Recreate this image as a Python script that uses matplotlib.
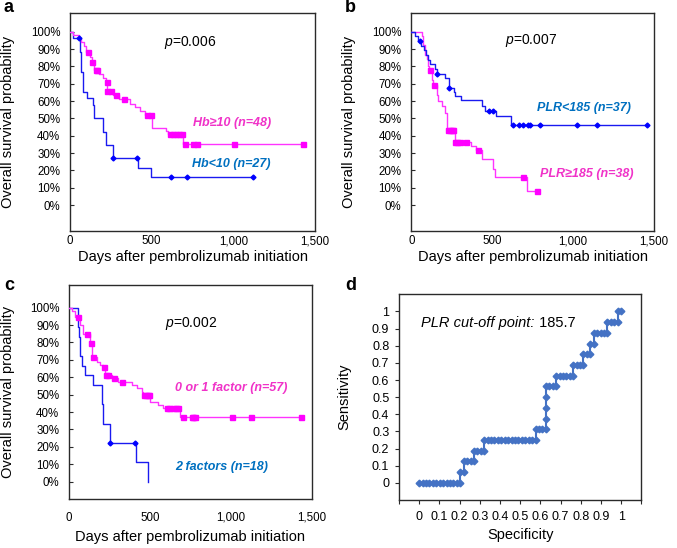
import numpy as np
import matplotlib
matplotlib.use("Agg")
import matplotlib.pyplot as plt
from matplotlib.transforms import offset_copy

plt.rcParams['font.family'] = ['Liberation Sans', 'DejaVu Sans']
plt.rcParams['mathtext.fontset'] = 'custom'
plt.rcParams['mathtext.rm'] = 'Liberation Sans'
plt.rcParams['mathtext.it'] = 'Liberation Sans:italic'

# ---------------- data ----------------
# Panel a : Hb
a_hi_t = [20, 55, 65, 85, 100, 125, 132, 148, 180, 200, 220, 226, 265, 300, 370, 395, 430, 460, 505, 585, 600, 694]
a_hi_s = [.979, .958, .938, .917, .885, .854, .823, .78, .757, .735, .71, .66, .637, .61, .585, .565, .545, .52, .445, .425, .41, .35]
a_hi_c = [112, 137, 157, 167, 224, 229, 249, 282, 331, 469, 494, 612, 630, 650, 670, 684, 704, 755, 780, 1006, 1429]
a_lo_t = [20, 61, 70, 80, 104, 140, 146, 204, 218, 265, 414, 496]
a_lo_s = [.963, .885, .77, .654, .615, .577, .50, .423, .346, .269, .216, .162]
a_lo_c = [55, 265, 410, 618, 718, 1122]

# Panel b : PLR
b_lo_t = [21, 41, 62, 76, 90, 103, 117, 144, 158, 210, 230, 261, 272, 309, 436, 457, 523, 618]
b_lo_s = [.973, .946, .919, .892, .865, .838, .811, .784, .757, .73, .676, .65, .63, .603, .57, .54, .512, .46]
b_lo_c = [56, 160, 233, 483, 504, 631, 668, 689, 724, 734, 796, 1026, 1146, 1458]
b_hi_t = [64, 74, 85, 95, 105, 112, 126, 136, 157, 167, 188, 208, 222, 268, 371, 400, 436, 507, 517, 713]
b_hi_s = [.974, .921, .868, .842, .80, .777, .72, .69, .636, .60, .57, .53, .43, .365, .34, .32, .266, .209, .16, .08]
b_hi_c = [116, 140, 229, 240, 250, 260, 272, 283, 299, 340, 412, 689, 775]

# Panel c : factors
c_01_t = [18, 37, 68, 89, 130, 140, 171, 191, 212, 220, 263, 304, 387, 418, 449, 459, 500, 552, 583, 686]
c_01_s = [.982, .948, .90, .849, .795, .718, .69, .67, .657, .613, .594, .575, .556, .536, .517, .498, .46, .44, .425, .37]
c_01_c = [54, 109, 134, 150, 216, 227, 243, 280, 330, 462, 475, 488, 497, 603, 620, 640, 660, 675, 706, 758, 768, 778, 1005, 1123, 1432]
c_2_t = [54, 62, 68, 78, 99, 150, 202, 212, 253, 414, 490]
c_2_s = [.889, .833, .722, .667, .611, .556, .444, .333, .222, .111, 0.0]
c_2_c = [256, 408]

# Panel d : ROC (counts of negatives / positives)
n_neg = 59
n_pos = 16
spec_counts = [0, 1, 2, 3, 4, 5, 6, 7, 8, 9, 10, 11, 12,
               12, 13,
               13, 14, 15, 16,
               16, 17, 18, 19,
               19, 20, 21, 22, 23, 24, 25, 26, 27, 28, 29, 30, 31, 32, 33, 34,
               34, 35, 36, 37,
               37, 37, 37,
               37, 38, 39, 40,
               40, 41, 42, 43, 44, 45,
               45, 46, 47, 48,
               48, 49, 50,
               50, 51,
               51, 52, 53, 54, 55,
               55, 56, 57, 58,
               58, 59]
sens_counts = [0] * 13 + [1] * 2 + [2] * 4 + [3] * 4 + [4] * 16 + [5] * 4 + [6, 7, 8] + \
              [9] * 4 + [10] * 6 + [11] * 4 + [12] * 3 + [13] * 2 + [14] * 5 + [15] * 4 + [16] * 2

PINK_LINE = '#FF33FF'
PINK_MK = '#FF00FF'
PINK_TXT = '#F032C8'
BLUE_LINE = '#1A1AF0'
BLUE_MK = '#0000FF'
BLUE_TXT = '#0070C0'
ROC_BLUE = '#4472C4'
FRAME = '#2a2a2a'

W, H = 677, 548
fig = plt.figure(figsize=(W / 100, H / 100), dpi=100)


def box(l, t, r, b):
    return [l / W, 1 - b / H, (r - l) / W, (b - t) / H]


def km(ax, te, se, tc, lc, mk, ms, mc):
    te = np.asarray(te, float)
    se = np.asarray(se, float)
    tc = np.asarray(tc, float)
    t_end = max(te.max(), tc.max() if len(tc) else 0)
    t = np.concatenate([[0], te, [t_end]])
    s = np.concatenate([[1.0], se, [se[-1]]])
    ax.step(t, s, where='post', color=lc, lw=1.0, zorder=3)
    idx = np.searchsorted(te, tc, side='right')
    lev = np.concatenate([[1.0], se])[idx]
    ax.plot(tc, lev, ls='none', marker=mk, ms=ms, color=mc, mec=mc, zorder=4)


def style_km(ax, ylim, xpad, xlab_y):
    ax.set_xlim(0, 1500)
    ax.set_ylim(*ylim)
    ax.set_xticks([0, 500, 1000, 1500])
    ax.set_xticklabels(['0', '500', '1,000', '1,500'])
    ax.set_yticks(np.arange(0, 11) / 10)
    ax.set_yticklabels([f'{i * 10}%' for i in range(11)])
    ax.tick_params(axis='y', direction='in', length=3, width=0.8, pad=7, labelsize=8.3, color=FRAME)
    ax.tick_params(axis='x', length=0, pad=xpad, labelsize=8.3)
    for sp in ax.spines.values():
        sp.set_color(FRAME)
        sp.set_linewidth(1.0)
    ax.set_ylabel('Overall survival probability', fontsize=10.5)
    ax.set_xlabel('Days after pembrolizumab initiation', fontsize=10.5)
    ax.yaxis.set_label_coords(-0.224, 0.5)
    ax.xaxis.set_label_coords(0.5, xlab_y)
    ax.xaxis.label.set_va('center')


SQ = 3.6
DM = 2.5

# ---- panel a ----
axa = fig.add_axes(box(70, 13.3, 315, 231))
km(axa, a_lo_t, a_lo_s, a_lo_c, BLUE_LINE, 'D', DM, BLUE_MK)
km(axa, a_hi_t, a_hi_s, a_hi_c, PINK_LINE, 's', SQ, PINK_MK)
style_km(axa, (-0.15, 1.106), 3, -0.118)
axa.text(738, 0.94, '$p$=0.006', fontsize=10, ha='center', va='center')
axa.text(753, 0.471, 'Hb≥10 (n=48)', fontsize=9, color=PINK_TXT, fontstyle='italic', fontweight='bold', va='center')
axa.text(745, 0.235, 'Hb<10 (n=27)', fontsize=9, color=BLUE_TXT, fontstyle='italic', fontweight='bold', va='center')

# ---- panel b ----
axb = fig.add_axes(box(411.3, 13.3, 654, 231))
km(axb, b_hi_t, b_hi_s, b_hi_c, PINK_LINE, 's', SQ, PINK_MK)
km(axb, b_lo_t, b_lo_s, b_lo_c, BLUE_LINE, 'D', DM, BLUE_MK)
style_km(axb, (-0.15, 1.106), 3, -0.118)
axb.yaxis.set_label_coords(-0.226, 0.5)
axb.text(742, 0.949, '$p$=0.007', fontsize=10, ha='center', va='center')
axb.text(779, 0.56, 'PLR<185 (n=37)', fontsize=9, color=BLUE_TXT, fontstyle='italic', fontweight='bold', va='center')
axb.text(793, 0.176, 'PLR≥185 (n=38)', fontsize=9, color=PINK_TXT, fontstyle='italic', fontweight='bold', va='center')

# ---- panel c ----
axc = fig.add_axes(box(69, 285, 311.7, 499.3))
km(axc, c_2_t, c_2_s, c_2_c, BLUE_LINE, 'D', DM, BLUE_MK)
km(axc, c_01_t, c_01_s, c_01_c, PINK_LINE, 's', SQ, PINK_MK)
style_km(axc, (-0.101, 1.13), 9, -0.176)
axc.text(752, 0.91, '$p$=0.002', fontsize=10, ha='center', va='center')
axc.text(655, 0.537, '0 or 1 factor (n=57)', fontsize=9, color=PINK_TXT, fontstyle='italic', fontweight='bold', va='center')
axc.text(655, 0.086, '2 factors (n=18)', fontsize=9, color=BLUE_TXT, fontstyle='italic', fontweight='bold', va='center')

# ---- panel d ----
axd = fig.add_axes(box(399, 294.3, 641.3, 500))
spec = np.array(spec_counts) / n_neg
sens = np.array(sens_counts) / n_pos
axd.plot(spec, sens, color=ROC_BLUE, lw=1.5, marker='D', ms=3.4, mec=ROC_BLUE, mfc=ROC_BLUE, zorder=3)
axd.set_xlim(-0.1, 1.1)
axd.set_ylim(-0.1, 1.1)
xt = np.round(np.arange(-0.1, 1.15, 0.1), 2)
axd.set_xticks(xt)
axd.set_xticklabels(['' if (v < 0 or v > 1) else ('0' if v == 0 else ('1' if v == 1 else f'{v:.1f}')) for v in xt])
yt = np.round(np.arange(0, 1.05, 0.1), 2)
axd.set_yticks(yt)
axd.set_yticklabels(['0' if v == 0 else ('1' if v == 1 else f'{v:.1f}') for v in yt])
axd.tick_params(axis='x', direction='out', length=3, width=0.8, pad=5, labelsize=9, color=FRAME)
axd.tick_params(axis='y', direction='out', length=3, width=0.8, pad=4, labelsize=9, color=FRAME)
for sp in axd.spines.values():
    sp.set_color(FRAME)
    sp.set_linewidth(1.0)
axd.set_xlabel('Specificity', fontsize=10.5)
axd.set_ylabel('Sensitivity', fontsize=10.5)
axd.yaxis.set_label_coords(-0.198, 0.5)
axd.xaxis.set_label_coords(0.5, -0.170)
axd.xaxis.label.set_va('center')
t1 = axd.text(0.011, 0.93, 'PLR cut-off point:', fontsize=10.5, fontstyle='italic', va='center', ha='left')
fig.canvas.draw()
bb = t1.get_window_extent(renderer=fig.canvas.get_renderer())
x_end = axd.transData.inverted().transform((bb.x1, bb.y0))[0]
axd.text(x_end, 0.93, ' 185.7', fontsize=10.5, va='center', ha='left')

# panel letters
for lab, x, y in [('a', 4, 8), ('b', 345, 8), ('c', 4, 285), ('d', 345, 286)]:
    fig.text(x / W, 1 - y / H, lab, fontsize=13, fontweight='bold', va='center', ha='left')

fig.savefig('out.png', dpi=100)
